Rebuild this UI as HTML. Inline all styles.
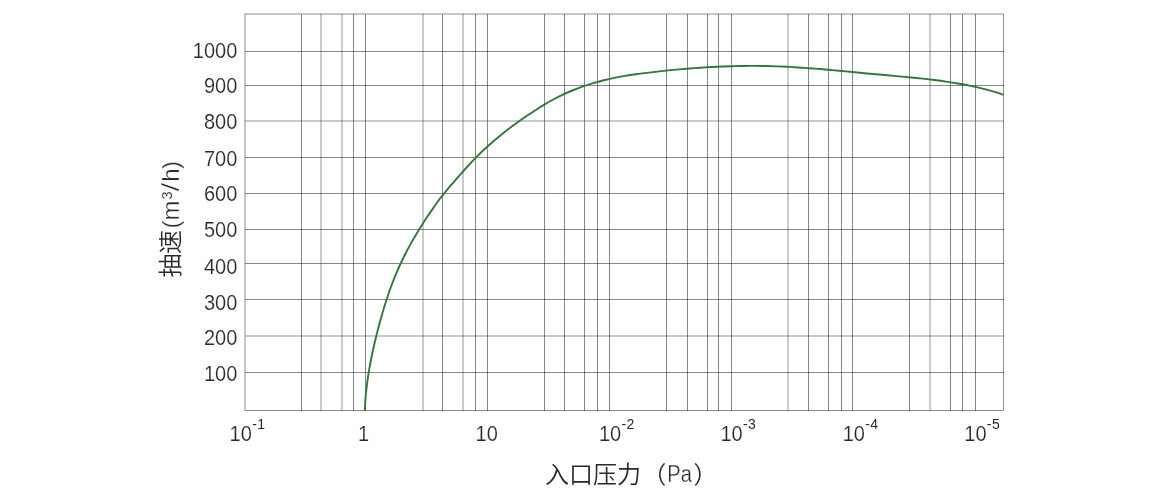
<!DOCTYPE html>
<html lang="zh-CN">
<head>
<meta charset="utf-8">
<title>抽速曲线</title>
<style>
html,body{margin:0;padding:0;background:#fff;}
body{width:1160px;height:500px;overflow:hidden;position:relative;}
svg{position:absolute;left:0;top:0;display:block;}
text{font-family:"Liberation Sans","Noto Sans CJK SC",sans-serif;fill:#2b2828;}
.t{font-size:20px;stroke:#fff;stroke-width:0.15px;}
.s{font-size:14px;letter-spacing:0.4px;stroke:none;}
.c{font-size:24px;font-weight:350;}
.l{stroke:#fff;stroke-width:0.3px;}
</style>
</head>
<body>
<svg width="1160" height="500" viewBox="0 0 1160 500">
<g stroke="#141212" stroke-width="1" fill="none">
<line x1="301.5" y1="14.0" x2="301.5" y2="411.0" stroke-opacity="0.50"/>
<line x1="321.0" y1="14.0" x2="321.0" y2="411.0" stroke-opacity="0.45"/>
<line x1="342.0" y1="14.0" x2="342.0" y2="411.0" stroke-opacity="0.45"/>
<line x1="353.5" y1="14.0" x2="353.5" y2="411.0" stroke-opacity="0.50"/>
<line x1="365.5" y1="14.0" x2="365.5" y2="411.0" stroke-opacity="0.50"/>
<line x1="423.0" y1="14.0" x2="423.0" y2="411.0" stroke-opacity="0.45"/>
<line x1="442.5" y1="14.0" x2="442.5" y2="411.0" stroke-opacity="0.50"/>
<line x1="463.0" y1="14.0" x2="463.0" y2="411.0" stroke-opacity="0.45"/>
<line x1="475.5" y1="14.0" x2="475.5" y2="411.0" stroke-opacity="0.50"/>
<line x1="487.5" y1="14.0" x2="487.5" y2="411.0" stroke-opacity="0.50"/>
<line x1="544.5" y1="14.0" x2="544.5" y2="411.0" stroke-opacity="0.50"/>
<line x1="564.5" y1="14.0" x2="564.5" y2="411.0" stroke-opacity="0.50"/>
<line x1="584.5" y1="14.0" x2="584.5" y2="411.0" stroke-opacity="0.50"/>
<line x1="597.5" y1="14.0" x2="597.5" y2="411.0" stroke-opacity="0.50"/>
<line x1="609.5" y1="14.0" x2="609.5" y2="411.0" stroke-opacity="0.50"/>
<line x1="666.5" y1="14.0" x2="666.5" y2="411.0" stroke-opacity="0.50"/>
<line x1="687.5" y1="14.0" x2="687.5" y2="411.0" stroke-opacity="0.50"/>
<line x1="707.5" y1="14.0" x2="707.5" y2="411.0" stroke-opacity="0.50"/>
<line x1="718.5" y1="14.0" x2="718.5" y2="411.0" stroke-opacity="0.50"/>
<line x1="731.5" y1="14.0" x2="731.5" y2="411.0" stroke-opacity="0.50"/>
<line x1="788.0" y1="14.0" x2="788.0" y2="411.0" stroke-opacity="0.45"/>
<line x1="808.5" y1="14.0" x2="808.5" y2="411.0" stroke-opacity="0.50"/>
<line x1="828.5" y1="14.0" x2="828.5" y2="411.0" stroke-opacity="0.50"/>
<line x1="841.5" y1="14.0" x2="841.5" y2="411.0" stroke-opacity="0.50"/>
<line x1="852.5" y1="14.0" x2="852.5" y2="411.0" stroke-opacity="0.50"/>
<line x1="909.5" y1="14.0" x2="909.5" y2="411.0" stroke-opacity="0.50"/>
<line x1="930.0" y1="14.0" x2="930.0" y2="411.0" stroke-opacity="0.45"/>
<line x1="950.5" y1="14.0" x2="950.5" y2="411.0" stroke-opacity="0.50"/>
<line x1="962.5" y1="14.0" x2="962.5" y2="411.0" stroke-opacity="0.50"/>
<line x1="975.5" y1="14.0" x2="975.5" y2="411.0" stroke-opacity="0.50"/>
<line x1="245.0" y1="51.5" x2="1004.0" y2="51.5" stroke-opacity="0.50"/>
<line x1="245.0" y1="85.5" x2="1004.0" y2="85.5" stroke-opacity="0.50"/>
<line x1="245.0" y1="121.0" x2="1004.0" y2="121.0" stroke-opacity="0.45"/>
<line x1="245.0" y1="157.5" x2="1004.0" y2="157.5" stroke-opacity="0.50"/>
<line x1="245.0" y1="193.5" x2="1004.0" y2="193.5" stroke-opacity="0.50"/>
<line x1="245.0" y1="229.5" x2="1004.0" y2="229.5" stroke-opacity="0.50"/>
<line x1="245.0" y1="263.5" x2="1004.0" y2="263.5" stroke-opacity="0.50"/>
<line x1="245.0" y1="299.5" x2="1004.0" y2="299.5" stroke-opacity="0.50"/>
<line x1="245.0" y1="336.0" x2="1004.0" y2="336.0" stroke-opacity="0.45"/>
<line x1="245.0" y1="372.5" x2="1004.0" y2="372.5" stroke-opacity="0.50"/>
<rect x="245.0" y="14.0" width="758.5" height="396.5" stroke-opacity="0.48"/>
</g>
<path d="M364.75 411.00 C364.85 409.19 365.09 403.74 365.36 400.12 C365.63 396.50 365.97 392.90 366.37 389.31 C366.78 385.71 367.25 382.13 367.76 378.55 C368.28 374.98 368.86 371.41 369.49 367.85 C370.11 364.29 370.79 360.74 371.50 357.19 C372.21 353.64 372.98 350.10 373.77 346.57 C374.56 343.03 375.40 339.49 376.27 335.97 C377.14 332.45 378.04 328.93 378.98 325.43 C379.92 321.92 380.89 318.42 381.90 314.94 C382.91 311.46 383.94 307.99 385.02 304.54 C386.10 301.09 387.21 297.65 388.38 294.23 C389.54 290.81 390.75 287.41 392.03 284.03 C393.30 280.65 394.64 277.29 396.04 273.96 C397.44 270.62 398.91 267.31 400.44 264.02 C401.96 260.74 403.55 257.47 405.19 254.24 C406.82 251.00 408.52 247.79 410.27 244.61 C412.01 241.43 413.81 238.28 415.66 235.16 C417.50 232.04 419.40 228.95 421.34 225.89 C423.27 222.83 425.26 219.81 427.27 216.80 C429.27 213.80 431.31 210.82 433.37 207.86 C435.44 204.90 437.49 201.94 439.67 199.05 C441.85 196.17 444.13 193.35 446.44 190.55 C448.76 187.76 451.19 185.03 453.57 182.29 C455.95 179.54 458.32 176.80 460.72 174.09 C463.11 171.37 465.50 168.66 467.93 166.00 C470.37 163.34 472.82 160.69 475.34 158.11 C477.86 155.53 480.44 152.99 483.07 150.51 C485.70 148.03 488.40 145.59 491.12 143.21 C493.85 140.82 496.62 138.48 499.42 136.18 C502.21 133.88 505.04 131.63 507.90 129.42 C510.77 127.22 513.66 125.06 516.60 122.95 C519.53 120.84 522.52 118.79 525.52 116.77 C528.53 114.74 531.57 112.76 534.62 110.79 C537.66 108.81 540.70 106.80 543.81 104.92 C546.91 103.03 550.04 101.20 553.23 99.48 C556.42 97.76 559.65 96.14 562.92 94.60 C566.19 93.06 569.50 91.61 572.85 90.25 C576.19 88.88 579.57 87.61 582.98 86.42 C586.39 85.23 589.84 84.12 593.30 83.09 C596.77 82.06 600.26 81.12 603.77 80.25 C607.28 79.38 610.82 78.60 614.36 77.88 C617.91 77.16 621.48 76.53 625.05 75.93 C628.63 75.33 632.21 74.80 635.81 74.29 C639.40 73.78 643.00 73.32 646.60 72.87 C650.20 72.42 653.80 72.00 657.40 71.59 C661.01 71.18 664.61 70.80 668.22 70.43 C671.82 70.07 675.43 69.72 679.04 69.40 C682.65 69.08 686.26 68.78 689.87 68.49 C693.48 68.21 697.10 67.95 700.71 67.72 C704.32 67.48 707.94 67.26 711.55 67.06 C715.17 66.87 718.78 66.69 722.40 66.54 C726.01 66.39 729.63 66.26 733.25 66.16 C736.86 66.06 740.48 65.98 744.10 65.93 C747.72 65.89 751.33 65.87 754.95 65.88 C758.57 65.90 762.19 65.94 765.80 66.02 C769.42 66.10 773.04 66.21 776.65 66.34 C780.27 66.48 783.89 66.64 787.50 66.82 C791.12 67.01 794.74 67.22 798.35 67.45 C801.97 67.68 805.58 67.93 809.19 68.20 C812.81 68.47 816.42 68.75 820.03 69.05 C823.64 69.35 827.25 69.67 830.86 69.99 C834.47 70.32 838.08 70.66 841.68 71.00 C845.29 71.35 850.70 71.88 852.50 72.06 C854.44 72.25 860.27 72.83 864.17 73.19 C868.06 73.56 871.96 73.90 875.87 74.25 C879.77 74.60 883.68 74.94 887.59 75.29 C891.50 75.63 895.42 75.98 899.33 76.34 C903.24 76.70 907.15 77.06 911.06 77.45 C914.97 77.85 918.88 78.25 922.78 78.68 C926.68 79.12 930.58 79.57 934.47 80.06 C938.36 80.56 942.24 81.08 946.12 81.65 C949.99 82.22 953.86 82.82 957.71 83.48 C961.57 84.15 965.41 84.85 969.24 85.63 C973.07 86.42 976.89 87.25 980.69 88.18 C984.49 89.10 988.28 90.09 992.05 91.19 C995.82 92.28 1001.42 94.16 1003.30 94.75" fill="none" stroke="#33763c" stroke-width="1.9" stroke-linecap="butt" stroke-linejoin="round"/>
<g class="t" text-anchor="end">
<text transform="translate(237.3,381.10) scale(1,1.060)">100</text>
<text transform="translate(237.3,345.10) scale(1,1.060)">200</text>
<text transform="translate(237.3,310.10) scale(1,1.060)">300</text>
<text transform="translate(237.3,274.10) scale(1,1.060)">400</text>
<text transform="translate(237.3,237.10) scale(1,1.060)">500</text>
<text transform="translate(237.3,201.10) scale(1,1.060)">600</text>
<text transform="translate(237.3,166.10) scale(1,1.060)">700</text>
<text transform="translate(237.3,129.10) scale(1,1.060)">800</text>
<text transform="translate(237.3,93.10) scale(1,1.060)">900</text>
<text transform="translate(237.3,58.10) scale(1,1.060)">1000</text>
</g>
<g class="t">
<text transform="translate(229.60,441.3) scale(1,1.060)">10<tspan class="s" dy="-11.6" dx="0.3">-1</tspan></text>
<text transform="translate(357.90,441.3) scale(1,1.060)">1</text>
<text transform="translate(475.60,441.3) scale(1,1.060)">10</text>
<text transform="translate(598.90,441.3) scale(1,1.060)">10<tspan class="s" dy="-11.6" dx="0.3">-2</tspan></text>
<text transform="translate(720.50,441.3) scale(1,1.060)">10<tspan class="s" dy="-11.6" dx="0.3">-3</tspan></text>
<text transform="translate(842.70,441.3) scale(1,1.060)">10<tspan class="s" dy="-11.6" dx="0.3">-4</tspan></text>
<text transform="translate(964.30,441.3) scale(1,1.060)">10<tspan class="s" dy="-11.6" dx="0.3">-5</tspan></text>
</g>
<text class="c" x="545 569 593 617 642.2" y="483.1">入口压力（</text>
<text class="c l" transform="translate(667.3,482.1) scale(0.84,0.98)">Pa</text>
<text class="c" x="693.4" y="483.1">）</text>
<text class="c" transform="rotate(-90)" x="-277.6 -254.0" y="179.0 179.0">抽速</text>
<text class="c l" transform="rotate(-90)" x="-228.6 -220.5 -199.4" y="179.0 179.3 179.3">(m³</text>
<text class="c l" style="stroke-width:0.55px" text-anchor="middle" transform="rotate(-90) translate(-187.2,179.3) scale(1.32,1)">/</text>
<text class="c l" transform="rotate(-90)" x="-181.8 -169.1" y="179.3 179.0">h)</text>
</svg>
</body>
</html>
